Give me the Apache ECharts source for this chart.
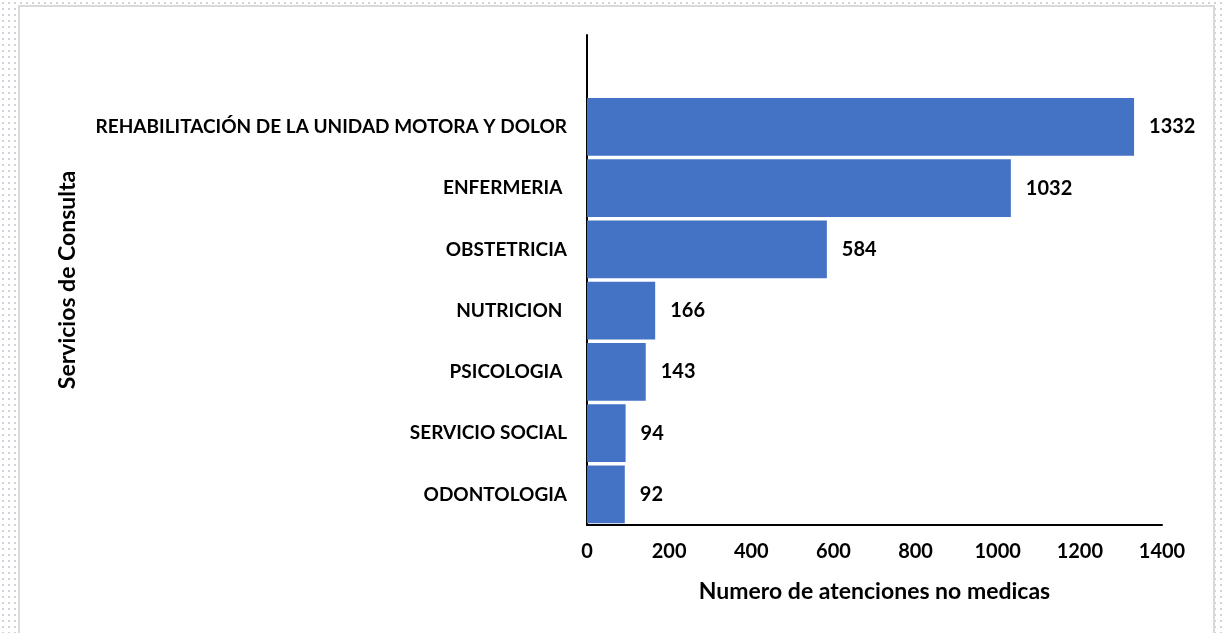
<!DOCTYPE html>
<html>
<head>
<meta charset="utf-8">
<script src="https://cdn.jsdelivr.net/npm/echarts@6/dist/echarts.min.js"></script>
<style>
  html, body { margin: 0; padding: 0; }
  body {
    width: 1223px; height: 633px; overflow: hidden;
    background-color: #fff;
    background-image: radial-gradient(#d0d4da 1px, transparent 1.2px);
    background-size: 6px 6px;
    position: relative;
  }
  .frame {
    position: absolute; left: 18px; top: 5px; width: 1193px; height: 640px;
    background: #fff; border: 2px solid #d9d9d9;
  }
  #chart { position: absolute; left: 0; top: 0; width: 1223px; height: 633px; }
</style>
</head>
<body>
<div class="frame"></div>
<div id="chart"></div>
<script>
// servicios, de arriba hacia abajo
const categories = [
  "REHABILITACIÓN DE LA UNIDAD MOTORA Y DOLOR",
  "ENFERMERIA ",
  "OBSTETRICIA",
  "NUTRICION ",
  "PSICOLOGIA ",
  "SERVICIO SOCIAL",
  "ODONTOLOGIA"
];
const values = [1332, 1032, 584, 166, 143, 94, 92];
const xTicks = [0, 200, 400, 600, 800, 1000, 1200, 1400];

const FONT = "Lato";

const chart = echarts.init(document.getElementById("chart"), null, { renderer: "canvas" });

// hueco vacio arriba como en el grafico original
const yData = [""].concat(categories);
const seriesData = [null].concat(values);

const option = {
  backgroundColor: "transparent",
  animation: false,
  grid: {
    left: 587,
    right: 61,
    top: 35,
    bottom: 108,
    containLabel: false
  },
  xAxis: {
    type: "value",
    min: xTicks[0],
    max: xTicks[xTicks.length - 1],
    interval: 200,
    name: "Numero de atenciones no medicas",
    nameLocation: "middle",
    nameGap: 55,
    nameTextStyle: { fontFamily: FONT, fontWeight: "bold", fontSize: 23, color: "#000" },
    axisLine: { show: true, lineStyle: { color: "#000", width: 2 } },
    axisTick: { show: false },
    splitLine: { show: false },
    axisLabel: {
      fontFamily: FONT, fontWeight: "bold", fontSize: 20, color: "#000", margin: 17,
      formatter: (v) => String(v)
    }
  },
  yAxis: {
    type: "category",
    inverse: true,
    data: yData,
    name: "Servicios de Consulta",
    nameLocation: "middle",
    nameGap: 508,
    nameTextStyle: { fontFamily: FONT, fontWeight: "bold", fontSize: 23, color: "#000" },
    axisLine: { show: true, lineStyle: { color: "#000", width: 2 } },
    axisTick: { show: false },
    axisLabel: { fontFamily: FONT, fontWeight: "bold", fontSize: 19, color: "#000", margin: 20 }
  },
  series: [
    {
      type: "bar",
      data: seriesData,
      barCategoryGap: "6%",
      itemStyle: { color: "#4472C4" },
      label: {
        show: true,
        position: "right",
        distance: 15,
        fontFamily: FONT,
        fontWeight: "bold",
        fontSize: 20,
        color: "#000"
      }
    }
  ]
};

chart.setOption(option);
</script>
</body>
</html>
